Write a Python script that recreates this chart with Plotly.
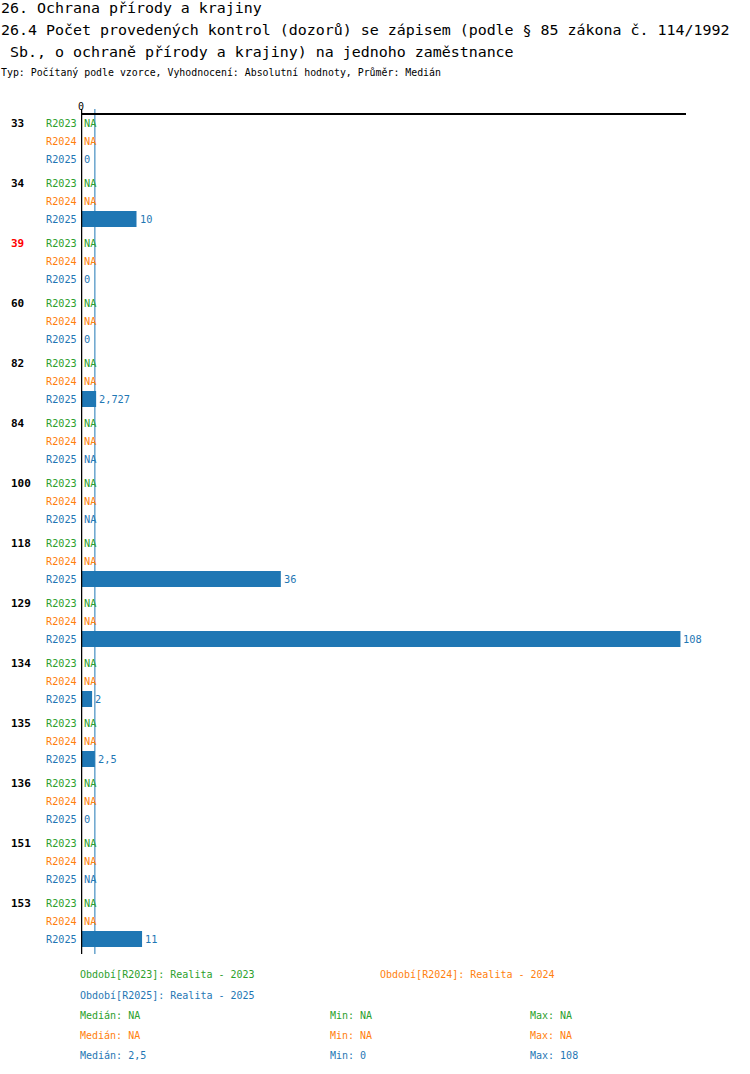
import plotly.graph_objects as go
import statistics

categories = ["33", "34", "39", "60", "82", "84", "100", "118", "129", "134", "135", "136", "151", "153"]
category_colors = ["black", "black", "red", "black", "black", "black", "black", "black", "black", "black", "black", "black", "black", "black"]
series_names = ["R2023", "R2024", "R2025"]
series_colors = ["#2ca02c", "#ff7f0e", "#1f77b4"]
series_legend = ["Období[R2023]: Realita - 2023", "Období[R2024]: Realita - 2024", "Období[R2025]: Realita - 2025"]
values_r2023 = [None] * 14
values_r2024 = [None] * 14
values_r2025 = [0, 10, 0, 0, 2.727, None, None, 36, 108, 2, 2.5, 0, None, 11]
series_values = [values_r2023, values_r2024, values_r2025]

title_lines = [
    "26. Ochrana přírody a krajiny",
    "26.4 Počet provedených kontrol (dozorů) se zápisem (podle § 85 zákona č. 114/1992",
    " Sb., o ochraně přírody a krajiny) na jednoho zaměstnance",
]
subtitle = "Typ: Počítaný podle vzorce, Vyhodnocení: Absolutní hodnoty, Průměr: Medián"

W, H = 750, 1074
L, R, T, B = 81, 64, 114, 120
PH = H - T - B
MONO = "DejaVu Sans Mono"


def fmt(v):
    if v is None:
        return "NA"
    s = f"{v:g}"
    return s.replace(".", ",")


def py(p):
    return (H - B - p) / PH


def pos(g, s):
    return 9 + g * 60 + s * 18


fig = go.Figure()
annotations = []

for s, (name, col, vals) in enumerate(zip(series_names, series_colors, series_values)):
    ys = [pos(g, s) for g in range(len(categories))]
    fig.add_trace(go.Bar(
        x=vals, y=ys, orientation="h", width=16,
        marker=dict(color=col, line=dict(width=0)),
        showlegend=False, hoverinfo="skip",
    ))
    for v, yv in zip(vals, ys):
        annotations.append(dict(
            text=fmt(v), xref="x", yref="y", x=(v if v is not None else 0), y=yv,
            xanchor="left", yanchor="middle", xshift=1, showarrow=False,
            font=dict(family=MONO, size=10.3, color=col)))

# title
for i, line in enumerate(title_lines):
    annotations.append(dict(
        text=line.replace(" ", "&nbsp;") if line.startswith(" ") else line,
        xref="paper", yref="paper", x=0, y=py(8 + 22 * i), xshift=-L - 1,
        xanchor="left", yanchor="middle", showarrow=False,
        font=dict(family=MONO, size=14.95, color="black")))
annotations.append(dict(
    text=subtitle, xref="paper", yref="paper", x=0, y=py(73), xshift=-L - 1,
    xanchor="left", yanchor="middle", showarrow=False,
    font=dict(family=MONO, size=9.9, color="black")))

# row labels
for g, (cat, ccol) in enumerate(zip(categories, category_colors)):
    annotations.append(dict(
        text=f"<b>{cat}</b>", xref="paper", yref="y", x=0, y=pos(g, 0), xshift=-72,
        xanchor="left", yanchor="middle", showarrow=False,
        font=dict(family=MONO, size=11, color=ccol)))
    for s, (name, col) in enumerate(zip(series_names, series_colors)):
        annotations.append(dict(
            text=name, xref="paper", yref="y", x=0, y=pos(g, s), xshift=-2,
            xanchor="right", yanchor="middle", showarrow=False,
            font=dict(family=MONO, size=10.2, color=col)))

# legend
legend_pos = [(80, 975), (380, 975), (80, 995)]
for (lx, ly), txt, col in zip(legend_pos, series_legend, series_colors):
    annotations.append(dict(
        text=txt, xref="paper", yref="paper", x=0, y=py(ly), xshift=lx - L - 2,
        xanchor="left", yanchor="middle", showarrow=False,
        font=dict(family=MONO, size=10, color=col)))

# stats
for s, (vals, col) in enumerate(zip(series_values, series_colors)):
    nums = [v for v in vals if v is not None]
    med = fmt(statistics.median(nums)) if nums else "NA"
    mn = fmt(min(nums)) if nums else "NA"
    mx = fmt(max(nums)) if nums else "NA"
    ly = 1015 + 20 * s
    for lx, txt in [(80, f"Medián: {med}"), (330, f"Min: {mn}"), (530, f"Max: {mx}")]:
        annotations.append(dict(
            text=txt, xref="paper", yref="paper", x=0, y=py(ly), xshift=lx - L - 2,
            xanchor="left", yanchor="middle", showarrow=False,
            font=dict(family=MONO, size=10, color=col)))

shapes = []
nums25 = [v for v in values_r2025 if v is not None]
med25 = statistics.median(nums25)
shapes.append(dict(type="line", xref="x", yref="paper", x0=med25, x1=med25,
                   y0=0, y1=py(109), line=dict(color="#1f77b4", width=1)))
shapes.append(dict(type="line", xref="paper", yref="paper", x0=0, x1=1, y0=1, y1=1,
                   line=dict(color="black", width=2)))
shapes.append(dict(type="line", xref="x", yref="paper", x0=0, x1=0, y0=0, y1=py(109),
                   line=dict(color="black", width=2.5)))

fig.update_layout(
    width=W, height=H,
    margin=dict(l=L, r=R, t=T, b=B, pad=0),
    paper_bgcolor="white", plot_bgcolor="white",
    barmode="overlay",
    xaxis=dict(range=[0, 109], side="top", showgrid=False, zeroline=False,
               tickvals=[0], ticktext=["0"], ticks="", showline=False,
               tickfont=dict(family=MONO, size=10, color="black"), ticklabelstandoff=1),
    yaxis=dict(range=[840, 0], showgrid=False, zeroline=False, showticklabels=False,
               ticks="", showline=False),
    annotations=annotations, shapes=shapes,
    font=dict(family=MONO),
)

fig.write_html("out.html", config={"displayModeBar": False},
               post_script="document.body.style.margin='0';document.body.style.overflow='hidden';")
